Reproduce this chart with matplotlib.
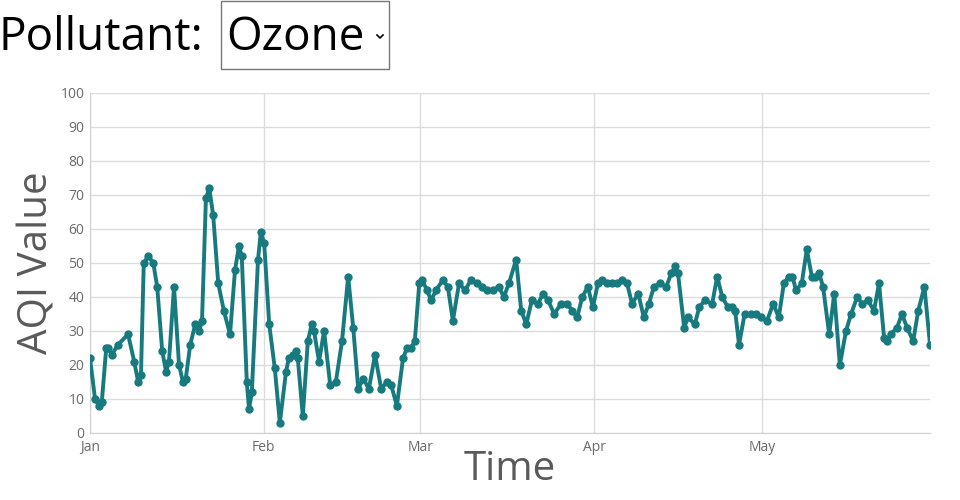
import pandas as pd
import matplotlib
matplotlib.use("Agg")
import matplotlib.pyplot as plt
import matplotlib.dates as mdates
from matplotlib.patches import Rectangle
from matplotlib.lines import Line2D

plt.rcParams['font.family'] = ['Open Sans', 'DejaVu Sans']

# readings: days since Jan 1 and the AQI value
days = [0, 0.9, 1.6, 2.1, 2.9, 3.2, 3.9, 5.0, 6.8, 7.9, 8.6, 9.1, 9.6, 10.4, 11.3,
        12.0, 12.9, 13.6, 14.1, 15.0, 15.9, 16.6, 17.1, 17.9, 18.8, 19.5, 20.0,
        20.7, 21.3, 22.0, 22.9, 23.9, 25.0, 25.9, 26.6, 27.1, 28.0, 28.4, 28.9,
        30.0, 30.5, 31.1, 32.0, 33.0, 33.9, 35.0, 35.5, 36.3, 36.8, 37.1, 38.0,
        38.9, 39.6, 40.0, 40.9, 41.8, 42.9, 43.9, 45.0, 46.1, 47.0, 47.9, 48.8,
        49.8, 50.9, 52.0, 53.0, 53.8, 54.8, 55.9, 56.6, 57.3, 58.0, 58.8, 59.3,
        60.2, 60.9, 61.8, 63.0, 63.9, 64.8, 65.9, 67.0, 68.0, 69.1, 70.0, 70.9,
        72.0, 73.0, 73.9, 74.8, 76.1, 77.0, 77.9, 78.9, 80.0, 80.9, 81.8, 82.9,
        84.1, 85.2, 86.1, 87.0, 87.9, 88.9, 89.8, 90.7, 91.4, 92.3, 93.2, 94.1,
        95.0, 95.9, 96.8, 97.9, 98.9, 99.8, 100.7, 101.8, 102.9, 103.8, 104.5,
        105.0, 106.1, 106.8, 108.0, 108.8, 109.8, 111.1, 112.0, 112.9, 113.9,
        114.6, 115.2, 115.9, 116.9, 118.0, 118.9, 119.8, 120.9, 122.0, 123.0,
        123.9, 124.8, 125.4, 126.1, 127.1, 128.0, 128.9, 129.5, 130.2, 130.9,
        132.0, 132.9, 133.9, 135.0, 135.9, 137.0, 137.9, 138.9, 140.0, 140.9,
        141.8, 142.3, 143.0, 144.1, 145.0, 145.9, 147.0, 147.9, 149.0, 150.0]
aqi = [22, 10, 8, 9, 25, 25, 23, 26, 29, 21, 15, 17, 50, 52, 50,
       43, 24, 18, 21, 43, 20, 15, 16, 26, 32, 30, 33,
       69, 72, 64, 44, 36, 29, 48, 55, 52, 15, 7, 12,
       51, 59, 56, 32, 19, 3, 18, 22, 23, 24, 22, 5,
       27, 32, 30, 21, 30, 14, 15, 27, 46, 31, 13, 16,
       13, 23, 13, 15, 14, 8, 22, 25, 25, 27, 44, 45,
       42, 39, 42, 45, 43, 33, 44, 42, 45, 44, 43, 42,
       42, 43, 40, 44, 51, 36, 32, 39, 38, 41, 39, 35,
       38, 38, 36, 34, 40, 43, 37, 44, 45, 44, 44, 44,
       45, 44, 38, 41, 34, 38, 43, 44, 43, 47, 49,
       47, 31, 34, 32, 37, 39, 38, 46, 40, 37,
       37, 36, 26, 35, 35, 35, 34, 33, 38, 34,
       44, 46, 46, 42, 44, 54, 46, 46, 47, 43,
       29, 41, 20, 30, 35, 40, 38, 39, 36, 44,
       28, 27, 29, 31, 35, 31, 27, 36, 43, 26]

pollutant = "Ozone"
start = pd.Timestamp("2023-01-01")
dates = start + pd.to_timedelta(days, unit="D")

teal = "#177a7e"
grid_c = "#dcdcdc"
label_c = "#5a5a5a"

fig = plt.figure(figsize=(9.6, 5.0), dpi=100)
ax = fig.add_axes([90 / 960, 67 / 500, 840 / 960, 340 / 500])

ax.plot(dates, aqi, color=teal, lw=2.8, marker="o", ms=5, zorder=3,
        solid_joinstyle="round")

ax.set_xlim(start, pd.Timestamp("2023-05-31"))
ax.set_ylim(0, 100)
ax.set_yticks(range(0, 101, 10))
ax.xaxis.set_major_locator(mdates.MonthLocator())
ax.xaxis.set_major_formatter(mdates.DateFormatter("%b"))

ax.grid(True, color=grid_c, lw=1)
ax.set_axisbelow(True)
for s in ["top", "right"]:
    ax.spines[s].set_visible(False)
for s in ["left", "bottom"]:
    ax.spines[s].set_color("#cfcfcf")
ax.tick_params(length=0, labelsize=10, labelcolor="#6a6a6a")
ax.tick_params(axis="y", pad=4)
ax.tick_params(axis="x", pad=5)

ax.set_ylabel("AQI Value", fontsize=29, color=label_c, labelpad=2)
ax.set_xlabel("Time", fontsize=29, color=label_c, labelpad=-4)

# header with the pollutant selector
fig.text(-0.002, 1 - 38 / 500, "Pollutant:", fontsize=33, va="center", ha="left")
fig.text(226 / 960, 1 - 38 / 500, pollutant, fontsize=33, va="center", ha="left")
fig.patches.append(Rectangle((221 / 960, 1 - 69 / 500), 168 / 960, 68 / 500,
                             transform=fig.transFigure, fill=False,
                             edgecolor="#777777", lw=1))
fig.lines.append(Line2D([377 / 960, 380 / 960, 383 / 960],
                        [1 - 35 / 500, 1 - 38 / 500, 1 - 35 / 500],
                        transform=fig.transFigure, color="black", lw=1.2))

fig.savefig("out.png", dpi=100)
